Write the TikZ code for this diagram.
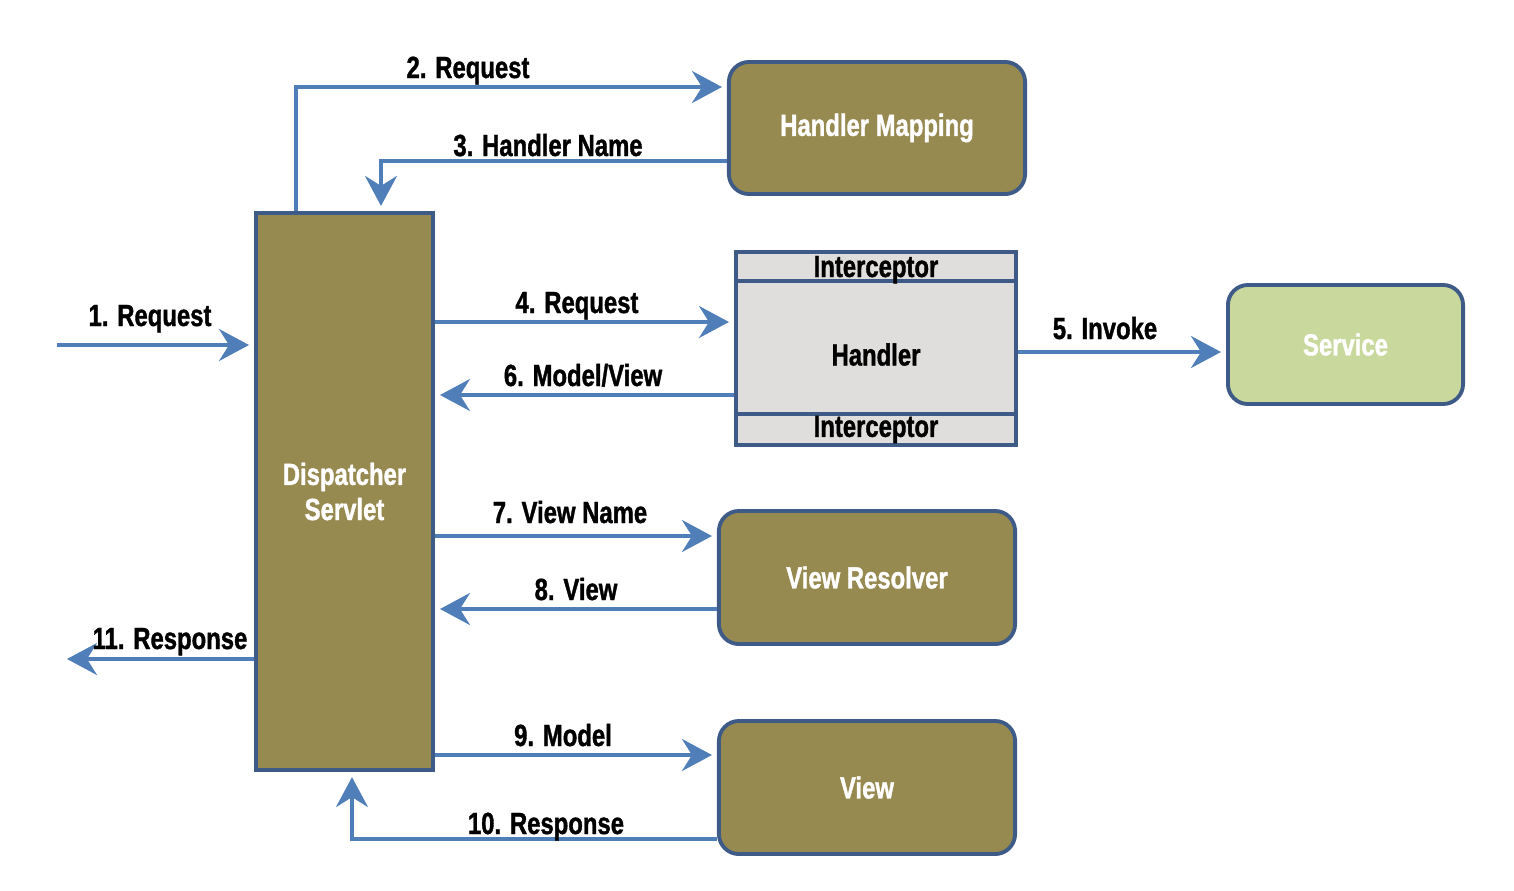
\documentclass[tikz,border=0pt]{standalone}
\usepackage{fontspec}
\newfontfamily\condfont{Liberation Sans Bold}[FakeStretch=0.78, FakeBold=1.2]
\usetikzlibrary{arrows.meta,positioning}
\definecolor{boxolive}{HTML}{978A51}
\definecolor{edgeblue}{HTML}{3E5B88}
\definecolor{flowblue}{HTML}{4F7EB9}
\definecolor{handlergrey}{HTML}{DFDEDD}
\definecolor{servicegreen}{HTML}{C9D89C}
\tikzset{
  txt/.style={font=\condfont\fontsize{8.7}{10}\selectfont},
  box/.style={txt, draw=edgeblue, line width=1.1pt, fill=boxolive, text=white,
    align=center, inner sep=0pt},
  rbox/.style={box, rounded corners=0.2cm, minimum width=2.96cm, minimum height=1.32cm},
  gbox/.style={box, fill=handlergrey, text=black, minimum width=2.80cm},
  flow/.style={draw=flowblue, line width=0.9pt, shorten >=0.05cm,
    -{Stealth[length=0.3cm, width=0.32cm, inset=0.1cm]}},
  lbl/.style={txt, anchor=base, inner sep=0pt}
}
\begin{document}
\begin{tikzpicture}[x=0.01cm, y=-0.01cm]
  \useasboundingbox (0,0) rectangle (1514,890);
  % boxes
  \node[box, minimum width=1.77cm, minimum height=5.57cm] (ds) at (344.5,491.5) {Dispatcher\\Servlet};
  \node[rbox] (hm) at (877,128) {Handler Mapping};
  \node[gbox, minimum height=1.33cm, text height=0.36cm, text depth=0pt] (hd) at (876,347.5) {Handler};
  \node[gbox, minimum height=0.29cm, text height=0.24cm, text depth=0.03cm] (it) at (876,266.5) {Interceptor};
  \node[gbox, minimum height=0.31cm] (ib) at (876,429.5) {Interceptor};
  \node[rbox, fill=servicegreen, minimum width=2.35cm, minimum height=1.19cm] (sv) at (1345.5,344.5) {Service};
  \node[rbox, minimum height=1.33cm] (vr) at (867,577.5) {View Resolver};
  \node[rbox, minimum height=1.33cm] (vw) at (867,787.5) {View};
  % connectors
  \coordinate (req) at (57,345);
  \coordinate (resp) at (62,659);
  \draw[flow] (req) -- (req -| ds.west);
  \draw[flow] (ds.north -| 296,0) |- (hm.west |- 0,87);
  \draw[flow] (hm.west |- 0,161) -| (ds.north -| 381,0);
  \draw[flow] (ds.east |- 0,322) -- (hd.west |- 0,322);
  \draw[flow] (hd.east |- 0,352) -- (sv.west |- 0,352);
  \draw[flow] (hd.west |- 0,395) -- (ds.east |- 0,395);
  \draw[flow] (ds.east |- 0,536) -- (vr.west |- 0,536);
  \draw[flow] (vr.west |- 0,609) -- (ds.east |- 0,609);
  \draw[flow] (ds.east |- 0,755) -- (vw.west |- 0,755);
  \draw[flow] (vw.west |- 0,839) -| (ds.south -| 352,0);
  \draw[flow] (ds.west |- resp) -- (resp);
  % labels
  \node[lbl] (l1) at (150,326) {1. Request};
  \node[lbl] (l2) at (468,78) {2. Request};
  \node[lbl] (l3) at (548,156) {3. Handler Name};
  \node[lbl] (l4) at (577,313) {4. Request};
  \node[lbl] (l5) at (1105,339) {5. Invoke};
  \node[lbl] (l6) at (583,386) {6. Model/View};
  \node[lbl] (l7) at (570,523) {7. View Name};
  \node[lbl] (l8) at (576,600) {8. View};
  \node[lbl] (l9) at (563,746) {9. Model};
  \node[lbl] (l10) at (546,834) {10. Response};
  \node[lbl] (l11) at (170,649) {11. Response};
\end{tikzpicture}
\end{document}
